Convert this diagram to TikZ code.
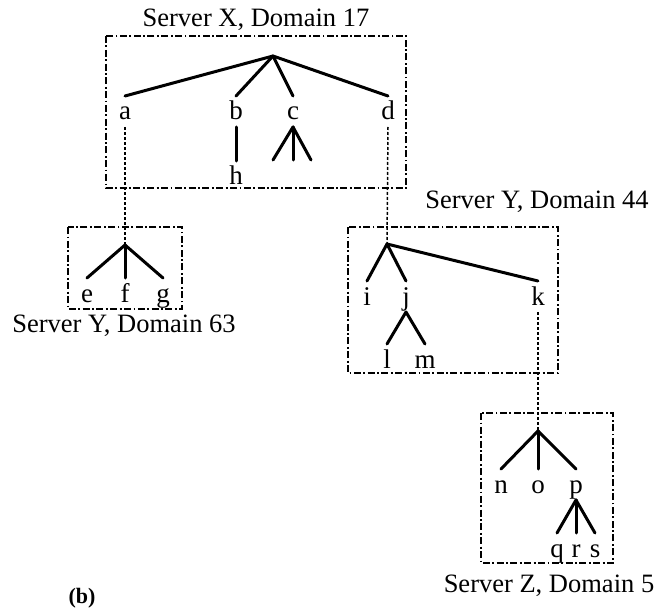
\documentclass[tikz,border=0pt]{standalone}
\usepackage{fontspec}
\setmainfont{Liberation Serif}
\begin{document}
\begin{tikzpicture}[x=1pt,y=-1pt,
  lbl/.style={anchor=base,inner sep=0pt,outer sep=0pt,text height=24pt,text depth=7pt,font=\fontsize{27}{30}\selectfont},
  ttl/.style={anchor=base,inner sep=0pt,font=\fontsize{26.5}{30}\selectfont},
  treeline/.style={line width=3pt,line cap=round},
  dlink/.style={line width=1.5pt,dash pattern=on 3pt off 2pt},
  dombox/.style={line width=1.6pt,dash pattern=on 7pt off 2.5pt on 1.8pt off 2.5pt}]
\useasboundingbox (0,0) rectangle (665,610);
% boxes
\draw[dombox] (106,36) rectangle (406,188);
\draw[dombox] (68,227) rectangle (182,309);
\draw[dombox] (348,227) rectangle (558,373);
\draw[dombox] (481,413) rectangle (613,563);
% titles
\node[ttl] (tX) at (256,27) {Server X, Domain 17};
\node[ttl] (tY63) at (124,332) {Server Y, Domain 63};
\node[ttl] (tY44) at (537,208) {Server Y, Domain 44};
\node[ttl] (tZ) at (549,592) {Server Z, Domain 5};
\node[anchor=base,inner sep=0pt,font=\fontsize{22}{26}\selectfont\bfseries] (cap) at (82,603) {(b)};
% roots
\coordinate (rX) at (273,56);
\coordinate (rY63) at (125,245);
\coordinate (rY44) at (387,244);
\coordinate (rZ) at (538,431);
% labels
\node[lbl] (a) at (125,120) {a};
\node[lbl] (b) at (236,120) {b};
\node[lbl] (c) at (293,120) {c};
\node[lbl] (d) at (388,120) {d};
\node[lbl] (h) at (236,185) {h};
\coordinate (c1) at (273,160);
\coordinate (c2) at (293,160);
\coordinate (c3) at (311,160);
\node[lbl] (e) at (87,302) {e};
\node[lbl] (f) at (125,302) {f};
\node[lbl] (g) at (163,302) {g};
\node[lbl] (i) at (367,305) {i};
\node[lbl] (j) at (406,305) {j};
\node[lbl] (k) at (538,305) {k};
\node[lbl] (l) at (387,368) {l};
\node[lbl] (m) at (425,368) {m};
\node[lbl] (n) at (501,493) {n};
\node[lbl] (o) at (538,493) {o};
\node[lbl] (p) at (576,493) {p};
\node[lbl] (q) at (557,557) {q};
\node[lbl] (r) at (576,557) {r};
\node[lbl] (s) at (595,557) {s};
% tree edges
\foreach \t in {a,b,c,d} \draw[treeline] (rX) -- (\t.north);
\draw[treeline] (b.south) -- (h.north);
\foreach \t in {c1,c2,c3} \draw[treeline] (c.south) -- (\t);
\foreach \t in {e,f,g} \draw[treeline] (rY63) -- (\t.north);
\foreach \t in {i,j,k} \draw[treeline] (rY44) -- (\t.north);
\foreach \t in {l,m} \draw[treeline] (j.south) -- (\t.north);
\foreach \t in {n,o,p} \draw[treeline] (rZ) -- (\t.north);
\foreach \t in {q,r,s} \draw[treeline] (p.south) -- (\t.north);
% links between domains
\draw[dlink] (a.south) -- (rY63);
\draw[dlink] (d.south) -- (rY44);
\draw[dlink] (k.south) -- (rZ);
\end{tikzpicture}
\end{document}
